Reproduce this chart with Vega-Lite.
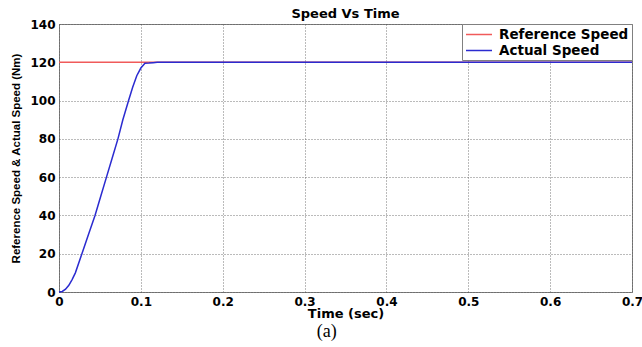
{
  "$schema": "https://vega.github.io/schema/vega-lite/v6.json",
  "autosize": {"type": "pad"},
  "padding": {"left": 10, "top": 7, "right": 0, "bottom": 0},
  "background": "white",
  "title": {
    "text": "(a)",
    "orient": "bottom",
    "font": "Liberation Serif",
    "fontSize": 18,
    "fontWeight": "normal",
    "color": "black",
    "offset": 2,
    "anchor": "middle"
  },
  "config": {
    "view": {"stroke": "#808080", "strokeWidth": 1},
    "axis": {
      "labelFont": "DejaVu Sans",
      "labelFontWeight": "bold",
      "labelFontSize": 12,
      "labelColor": "black",
      "titleColor": "black",
      "labelFlush": false,
      "labelOverlap": false,
      "domain": false,
      "ticks": false,
      "gridColor": "#555555",
      "gridDash": [1, 2],
      "gridOpacity": 0.8,
      "gridWidth": 1
    },
    "legend": {
      "orient": "top-right",
      "offset": 0,
      "strokeColor": "#808080",
      "fillColor": "white",
      "padding": 3,
      "symbolType": "M-1,0H3",
      "symbolSize": 169,
      "symbolStrokeWidth": 1.5,
      "symbolFillColor": "transparent",
      "labelFont": "DejaVu Sans",
      "labelFontWeight": "bold",
      "labelFontSize": 13.5,
      "labelColor": "black",
      "labelOffset": 19,
      "rowPadding": 2,
      "title": null
    }
  },
  "data": {
    "values": [
      {"t": 0, "speed": 120, "series": "Reference Speed"},
      {"t": 0.7, "speed": 120, "series": "Reference Speed"},
      {"t": 0, "speed": 0, "series": "Actual Speed"},
      {"t": 0.004, "speed": 0.3, "series": "Actual Speed"},
      {"t": 0.008, "speed": 1.5, "series": "Actual Speed"},
      {"t": 0.012, "speed": 3.5, "series": "Actual Speed"},
      {"t": 0.016, "speed": 6.5, "series": "Actual Speed"},
      {"t": 0.02, "speed": 10, "series": "Actual Speed"},
      {"t": 0.028, "speed": 20, "series": "Actual Speed"},
      {"t": 0.036, "speed": 30, "series": "Actual Speed"},
      {"t": 0.044, "speed": 40, "series": "Actual Speed"},
      {"t": 0.051, "speed": 50, "series": "Actual Speed"},
      {"t": 0.058, "speed": 60, "series": "Actual Speed"},
      {"t": 0.065, "speed": 70, "series": "Actual Speed"},
      {"t": 0.072, "speed": 80, "series": "Actual Speed"},
      {"t": 0.078, "speed": 90, "series": "Actual Speed"},
      {"t": 0.085, "speed": 100, "series": "Actual Speed"},
      {"t": 0.09, "speed": 107, "series": "Actual Speed"},
      {"t": 0.095, "speed": 113, "series": "Actual Speed"},
      {"t": 0.1, "speed": 117, "series": "Actual Speed"},
      {"t": 0.105, "speed": 119.5, "series": "Actual Speed"},
      {"t": 0.11, "speed": 119.6, "series": "Actual Speed"},
      {"t": 0.115, "speed": 119.8, "series": "Actual Speed"},
      {"t": 0.12, "speed": 120, "series": "Actual Speed"},
      {"t": 0.7, "speed": 120, "series": "Actual Speed"}
    ]
  },
  "vconcat": [
    {
      "width": 573,
      "height": 268,
      "title": {
        "text": "Speed Vs Time",
        "font": "DejaVu Sans",
        "fontWeight": "bold",
        "fontSize": 13,
        "color": "black",
        "anchor": "middle",
        "offset": -3
      },
      "encoding": {
        "x": {
          "field": "t", "type": "quantitative",
          "scale": {"domain": [0, 0.7], "nice": false},
          "axis": {
            "values": [0, 0.1, 0.2, 0.3, 0.4, 0.5, 0.6, 0.7],
            "format": "~g",
            "labelPadding": 4,
            "title": "Time (sec)",
            "titleFont": "DejaVu Sans", "titleFontWeight": "bold", "titleFontSize": 13,
            "titlePadding": 0
          }
        },
        "y": {
          "field": "speed", "type": "quantitative",
          "scale": {"domain": [0, 140], "nice": false},
          "axis": {
            "values": [0, 20, 40, 60, 80, 100, 120, 140],
            "labelPadding": 4,
            "title": "Reference Speed & Actual Speed (Nm)",
            "titleFont": "Liberation Sans", "titleFontWeight": "bold", "titleFontSize": 11.5,
            "titlePadding": 8
          }
        },
        "color": {
          "field": "series", "type": "nominal",
          "scale": {"domain": ["Reference Speed", "Actual Speed"], "range": ["#f05a5a", "#2b2bd0"]},
          "legend": {}
        }
      },
      "layer": [
        {
          "transform": [{"filter": "datum.series === 'Reference Speed'"}],
          "mark": {"type": "line", "strokeWidth": 1.5}
        },
        {
          "transform": [{"filter": "datum.series === 'Actual Speed'"}],
          "mark": {"type": "line", "strokeWidth": 1.5}
        }
      ]
    }
  ]
}
